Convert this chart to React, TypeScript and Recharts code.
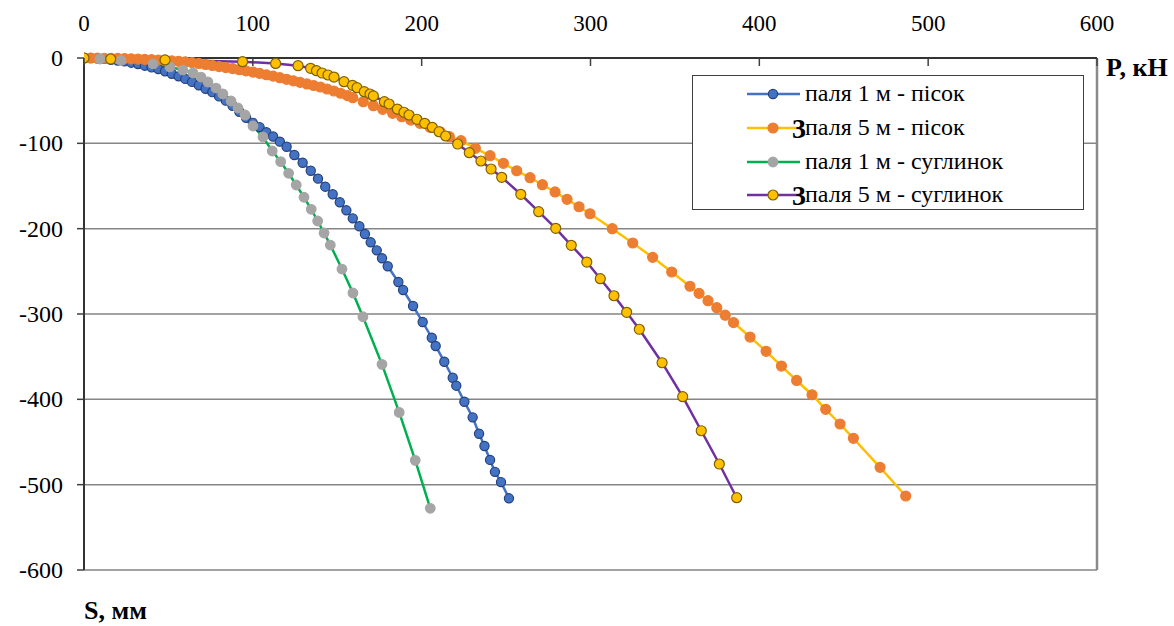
import { LineChart, Line, XAxis, YAxis, CartesianGrid, ReferenceLine } from "recharts";

const FONT = "'Liberation Serif', 'Times New Roman', serif";

// P, кН (x) and S, мм (y)
const pPisok1 = [0, 4, 8, 12, 16, 20, 24, 28, 32, 36, 40, 44, 48, 52, 56, 60, 64, 68, 72, 76, 80, 84, 88, 92, 96, 100, 104, 108, 112, 116, 120, 124.6, 129.5, 134.3, 138.6, 142.9, 147.3, 151.5, 155.4, 159.2, 163.1, 166.4, 169.8, 173.4, 176.5, 179.9, 186.2, 189.0, 194.9, 200.6, 206.0, 208.3, 213.4, 218.4, 220.5, 225.3, 230.2, 234.0, 237.2, 240.5, 243.4, 247, 251.7];
const sPisok1 = [0, 0, -0.5, -1, -2, -3, -4, -5.5, -7, -9, -11, -13, -15.5, -18.5, -21.5, -24.5, -28, -32, -36, -40, -45, -50, -56, -63, -70, -76, -81, -87, -92, -98, -104, -113.7, -122.7, -132.1, -141.4, -150.8, -159.7, -169.1, -178.5, -187.9, -197.2, -206.3, -216.0, -225.4, -234.7, -244.1, -262.5, -271.9, -290.6, -309.4, -327.8, -337.5, -355.9, -374.7, -384.0, -402.8, -421.1, -440.3, -454.7, -471, -485, -497, -516];

const pPisok5 = [0, 4, 8, 12, 16, 20, 24, 28, 32, 36, 40, 44, 48, 52, 56, 60, 64, 68, 72, 76, 80, 84, 88, 92, 96, 100, 104, 108, 112, 116, 120, 124, 128, 132, 136, 140, 144, 148, 152, 156, 159.2, 165.4, 171.4, 176.9, 182.8, 188.2, 193.5, 199.0, 204.9, 210.9, 216.4, 223.3, 231.8, 240.5, 248.4, 256.3, 264.2, 271.5, 279.0, 286.1, 293.2, 299.7, 312.9, 325.0, 336.8, 348.1, 358.9, 364.3, 369.6, 374.8, 379.8, 384.7, 394.5, 404.0, 413.1, 422.1, 431.2, 439.3, 447.8, 455.7, 471.5, 486.7];
const sPisok5 = [0, 0, -0.2, -0.3, -0.4, -0.5, -0.7, -1, -1.3, -1.6, -2, -2.4, -2.9, -3.4, -3.9, -4.5, -5.4, -6.4, -7.6, -8.8, -10, -11.2, -12.4, -13.7, -15.1, -16.5, -18, -19.6, -21.2, -23.1, -25, -26.8, -28.6, -30.4, -32.2, -34, -36.3, -38.7, -41.3, -44, -46.5, -51.2, -55.9, -60.1, -64.8, -68.8, -72.7, -76.5, -81.2, -86.4, -92.2, -96.9, -105.8, -114.5, -123.4, -132.1, -140.3, -148.5, -157.0, -165.6, -174.3, -182.5, -200.0, -216.8, -233.6, -250.8, -267.5, -275.8, -284.4, -292.6, -301.4, -310.0, -327.0, -343.7, -361.0, -377.9, -394.6, -411.7, -428.9, -445.7, -479.7, -513.3];

const pSuglynok1 = [0, 9.5, 21.9, 40.9, 50.9, 58.6, 64.6, 69.3, 73.4, 78.2, 82.3, 87.1, 91.2, 95.4, 100.1, 106, 111.5, 116.5, 121.2, 125.7, 130.3, 134.6, 138.4, 142.2, 145.9, 152.8, 159.3, 165.2, 176.5, 186.7, 196.2, 205.1];
const sSuglynok1 = [0, -1.2, -2.9, -7, -10.5, -14.1, -17.6, -22.3, -28.1, -35.2, -42.2, -50.4, -58.6, -66.8, -79.7, -92.6, -109, -121.5, -135.1, -148.8, -163.2, -177.3, -191, -205.1, -219.2, -247.3, -275.4, -303.2, -359, -415.3, -471.5, -527.7];

const pSuglynok5 = [0, 15.8, 48, 93.9, 113.5, 126.8, 134.2, 137.7, 141, 144.5, 148.1, 154, 159, 161.7, 166, 169.4, 171.4, 177.9, 180.7, 185.6, 189.5, 192.5, 197.2, 201.8, 206.3, 210.3, 214.2, 221.3, 228.2, 235.1, 241.1, 247.4, 258.7, 269.3, 279.4, 288.6, 297.8, 305.8, 313.9, 321.4, 328.9, 342.4, 354.6, 365.6, 376.3, 386.6];
const sSuglynok5 = [0, -1.2, -2.3, -4.3, -6.4, -9, -12.1, -14.9, -17.6, -19.9, -22.3, -27.8, -32, -34.8, -39.5, -42.2, -44.5, -51.2, -53.9, -59.8, -63.6, -66.8, -71.8, -76.5, -81.2, -86.4, -91.4, -100.8, -111, -120.7, -130.1, -139.8, -159.7, -180.1, -199.6, -219.5, -239.1, -258.6, -278.6, -298, -317.9, -357.1, -396.9, -436.8, -475.8, -515.3];

const xTicks = [0, 100, 200, 300, 400, 500, 600];
const yTicks = [0, -100, -200, -300, -400, -500, -600];

const zip = (p: number[], s: number[]) => p.map((x, i) => ({ x, y: s[i] }));

const SERIES = [
    { name: "паля 1 м - пісок", data: zip(pPisok1, sPisok1), line: "#4472C4", fill: "#4472C4", stroke: "#24427a", r: 4.6, glitch: false },
    { name: "паля 5 м - пісок", data: zip(pPisok5, sPisok5), line: "#FFC000", fill: "#ED7D31", stroke: "#ED7D31", r: 5, glitch: true },
    { name: "паля 1 м - суглинок", data: zip(pSuglynok1, sSuglynok1), line: "#00B050", fill: "#A5A5A5", stroke: "#A5A5A5", r: 4.8, glitch: false },
    { name: "паля 5 м - суглинок", data: zip(pSuglynok5, sSuglynok5), line: "#7030A0", fill: "#FFC000", stroke: "#7F6000", r: 5, glitch: true },
];

function TopTick(props: any) {
    const { x, y, payload } = props;
    return (
        <g>
            <line x1={x} x2={x} y1={y + 27} y2={y + 35} stroke="#404040" strokeWidth={1.5} />
            <text x={x} y={y} textAnchor="middle" fontSize={23} fill="#000" style={{ fontFamily: FONT }}>
                {payload.value}
            </text>
        </g>
    );
}

function LeftTick(props: any) {
    const { x, y, payload } = props;
    return (
        <text x={x} y={y + 8} textAnchor="end" fontSize={24} fill="#000" style={{ fontFamily: FONT }}>
            {payload.value}
        </text>
    );
}

function LegendBox() {
    const rows = [19, 53, 87, 120];
    return (
        <div
            style={{
                position: "absolute",
                left: 692,
                top: 75,
                width: 392,
                height: 135,
                boxSizing: "border-box",
                border: "1.5px solid #404040",
                background: "#fff",
            }}
        >
            <svg width={392} height={135} style={{ position: "absolute", left: -1.5, top: -1.5 }}>
                {SERIES.map((s, i) => (
                    <g key={s.name}>
                        <line x1={55} x2={108} y1={rows[i]} y2={rows[i]} stroke={s.line} strokeWidth={2.5} />
                        <circle cx={81} cy={rows[i]} r={s.r} fill={s.fill} stroke={s.stroke} strokeWidth={1.2} />
                        <text x={113} y={rows[i] + 7} fontSize={24} fill="#000" style={{ fontFamily: FONT }}>
                            {s.name}
                        </text>
                        {s.glitch && (
                            <text x={100} y={rows[i] + 9.5} fontSize={28} fontWeight="bold" fill="#000" style={{ fontFamily: FONT }}>
                                3
                            </text>
                        )}
                    </g>
                ))}
            </svg>
        </div>
    );
}

export default function App() {
    return (
        <div style={{ position: "absolute", left: 0, top: 0, width: 1174, height: 626, background: "#fff" }}>
            <LineChart width={1174} height={626} margin={{ top: 28, right: 77, bottom: 56, left: 14 }}>
                <CartesianGrid vertical={false} stroke="#858585" strokeWidth={1.5} />
                <ReferenceLine x={600} stroke="#8a8a8a" strokeWidth={2.5} />
                <XAxis
                    type="number"
                    dataKey="x"
                    orientation="top"
                    domain={[0, 600]}
                    ticks={xTicks}
                    height={30}
                    tickSize={6}
                    tickMargin={21}
                    tickLine={false}
                    tick={<TopTick />}
                    axisLine={{ stroke: "#333", strokeWidth: 2 }}
                    allowDataOverflow
                />
                <YAxis
                    type="number"
                    dataKey="y"
                    domain={[-600, 0]}
                    ticks={yTicks}
                    width={70}
                    tickSize={7}
                    tickMargin={14}
                    tick={<LeftTick />}
                    tickLine={{ stroke: "#404040", strokeWidth: 1.5 }}
                    axisLine={{ stroke: "#333", strokeWidth: 2 }}
                />
                {SERIES.map((s) => (
                    <Line
                        key={s.name}
                        data={s.data}
                        dataKey="y"
                        name={s.name}
                        type="linear"
                        stroke={s.line}
                        strokeWidth={2.5}
                        dot={{ r: s.r, fill: s.fill, stroke: s.stroke, strokeWidth: 1.2 }}
                        activeDot={false}
                        isAnimationActive={false}
                    />
                ))}
            </LineChart>
            <LegendBox />
            <div style={{ position: "absolute", left: 1106, top: 53, fontFamily: FONT, fontWeight: "bold", fontSize: 26, lineHeight: "30px" }}>
                P, кН
            </div>
            <div style={{ position: "absolute", left: 84, top: 596, fontFamily: FONT, fontWeight: "bold", fontSize: 26, lineHeight: "30px" }}>
                S, мм
            </div>
        </div>
    );
}
